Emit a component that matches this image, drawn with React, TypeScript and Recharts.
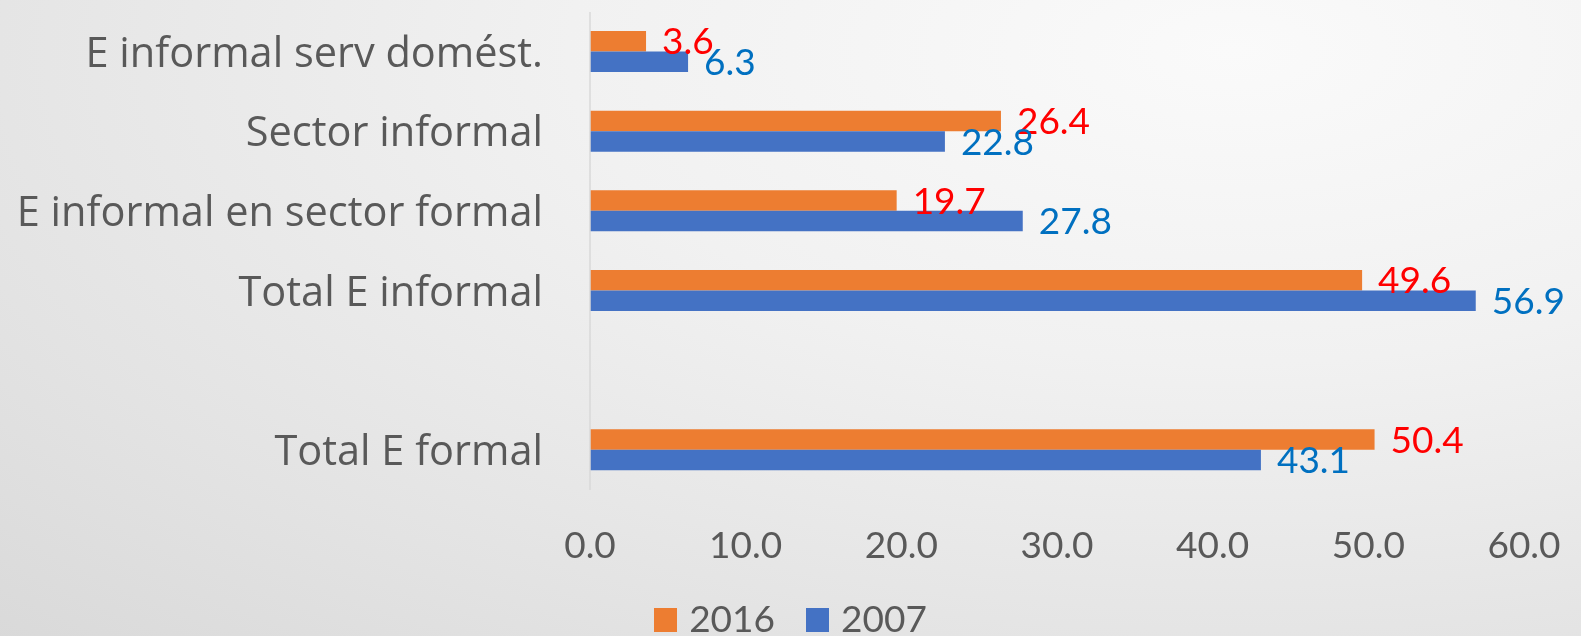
import { BarChart, Bar, XAxis, YAxis, LabelList, Legend } from 'recharts';

const categories = [
  'E informal serv domést.',
  'Sector informal',
  'E informal en sector formal',
  'Total E informal',
  '',
  'Total E formal',
];
const values2016 = [3.6, 26.4, 19.7, 49.6, null, 50.4];
const values2007 = [6.3, 22.8, 27.8, 56.9, null, 43.1];
const xTicks = [0, 10, 20, 30, 40, 50, 60];
const seriesNames = ['2016', '2007'];
const seriesColors = ['#ED7D31', '#4472C4'];

const data = categories.map((name, i) => ({
  name,
  y2016: values2016[i],
  y2007: values2007[i],
}));

const FONT = 'Lato, "Open Sans", sans-serif';
const CAT_FONT = '"Open Sans", Lato, sans-serif';
const TEXT = '#595959';

const fmt = (v: any) => (v == null ? '' : Number(v).toFixed(1));

// legend drawn in the series order (2016 first, like the original)
const LegendBox = () => (
  <div
    style={{
      display: 'flex',
      justifyContent: 'center',
      alignItems: 'center',
      height: 36,
      fontFamily: FONT,
      fontSize: 37,
      lineHeight: '36px',
      color: TEXT,
    }}
  >
    {seriesNames.map((n, i) => (
      <div key={n} style={{ display: 'flex', alignItems: 'center', marginRight: i === 0 ? 31 : 0 }}>
        <span
          style={{ display: 'inline-block', width: 23, height: 24, background: seriesColors[i], marginRight: 12, marginTop: 3 }}
        />
        <span>{n}</span>
      </div>
    ))}
  </div>
);

export default function App() {
  return (
    <div
      style={{
        position: 'fixed',
        left: 0,
        top: 0,
        width: 1581,
        height: 636,
        overflow: 'hidden',
        background:
          'radial-gradient(ellipse 120% 140% at 78% 8%, #fafafa 0%, #f1f1f1 35%, #e3e3e3 70%, #d6d6d6 100%)',
      }}
    >
      <BarChart
        width={1581}
        height={636}
        data={data}
        layout="vertical"
        margin={{ top: 12, right: 57, bottom: 0, left: 0 }}
        barGap={0}
        barSize={20.5}
      >
        <XAxis
          type="number"
          domain={[0, 60]}
          ticks={xTicks}
          tickFormatter={fmt}
          axisLine={false}
          tickLine={false}
          tickSize={0}
          tickMargin={42}
          height={110}
          tick={{ fill: TEXT, fontSize: 37, fontFamily: FONT }}
        />
        <YAxis
          type="category"
          dataKey="name"
          width={590}
          axisLine={{ stroke: '#d9d9d9', strokeWidth: 1.5 }}
          tickLine={false}
          tickSize={0}
          tickMargin={47}
          interval={0}
          tick={{ fill: TEXT, fontSize: 41.5, fontFamily: CAT_FONT }}
        />
        <Legend
          content={<LegendBox />}
          verticalAlign="bottom"
          wrapperStyle={{ left: 0, width: 1581, bottom: 0 }}
        />
        <Bar dataKey="y2016" name={seriesNames[0]} fill={seriesColors[0]} isAnimationActive={false}>
          <LabelList
            dataKey="y2016"
            position="right"
            offset={16}
            formatter={fmt}
            style={{ fill: '#FF0000', fontSize: 37, fontFamily: FONT }}
          />
        </Bar>
        <Bar dataKey="y2007" name={seriesNames[1]} fill={seriesColors[1]} isAnimationActive={false}>
          <LabelList
            dataKey="y2007"
            position="right"
            offset={16}
            formatter={fmt}
            style={{ fill: '#0070C0', fontSize: 37, fontFamily: FONT }}
          />
        </Bar>
      </BarChart>
    </div>
  );
}
